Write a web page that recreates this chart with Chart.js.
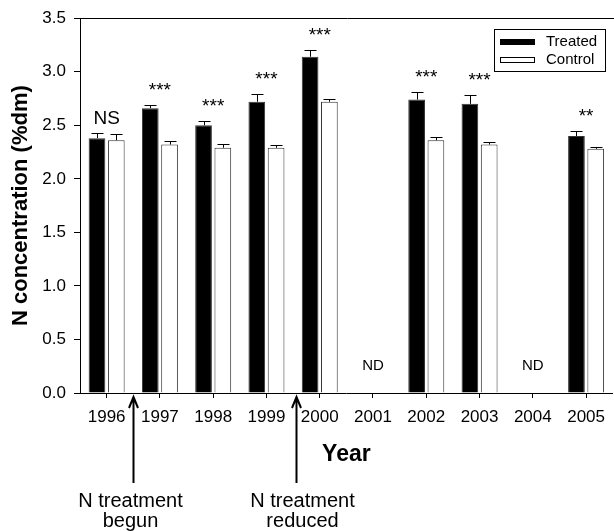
<!DOCTYPE html>
<html>
<head>
<meta charset="utf-8">
<script src="https://cdn.jsdelivr.net/npm/chart.js@4/dist/chart.umd.min.js"></script>
<style>
  html, body { margin: 0; padding: 0; background: #fff; }
  #wrap { width: 614px; height: 531px; position: relative; }
</style>
</head>
<body>
<div id="wrap"><canvas id="c" width="614" height="531"></canvas></div>
<script>
const years = ['1996', '1997', '1998', '1999', '2000', '2001', '2002', '2003', '2004', '2005'];
const treated = [2.38, 2.66, 2.50, 2.72, 3.14, null, 2.74, 2.70, null, 2.40];
const treatedErr = [0.05, 0.03, 0.04, 0.07, 0.06, null, 0.07, 0.08, null, 0.045];
const control = [2.36, 2.32, 2.29, 2.29, 2.72, null, 2.36, 2.32, null, 2.28];
const controlErr = [0.06, 0.035, 0.035, 0.025, 0.03, null, 0.035, 0.025, null, 0.02];
const sigLabels = ['NS', '***', '***', '***', '***', 'ND', '***', '***', 'ND', '**'];
const yTicks = [0, 0.5, 1.0, 1.5, 2.0, 2.5, 3.0, 3.5];
const events = [
  { at: 0.5, lines: ['N treatment', 'begun'], dx: -3 },
  { at: 3.55, lines: ['N treatment', 'reduced'], dx: 6 }
];
const seriesNames = ['Treated', 'Control'];

const FONT = "'Liberation Sans', Arial, Helvetica, sans-serif";

const errorBars = {
  id: 'errorBars',
  afterDatasetsDraw(chart) {
    const ctx = chart.ctx;
    const y = chart.scales.y;
    const errs = [treatedErr, controlErr];
    chart.data.datasets.forEach((ds, di) => {
      const meta = chart.getDatasetMeta(di);
      meta.data.forEach((bar, i) => {
        const v = ds.data[i];
        const e = errs[di][i];
        if (v == null || e == null) return;
        const x = Math.round(bar.x) + 0.5;
        const top = Math.round(y.getPixelForValue(v + e)) + 0.5;
        const base = y.getPixelForValue(v);
        ctx.save();
        ctx.strokeStyle = '#000';
        ctx.lineWidth = 1;
        ctx.beginPath();
        ctx.moveTo(x, base);
        ctx.lineTo(x, top);
        ctx.moveTo(x - 6, top);
        ctx.lineTo(x + 6, top);
        ctx.stroke();
        ctx.restore();
      });
    });
  }
};

const extras = {
  id: 'extras',
  afterDraw(chart) {
    const ctx = chart.ctx;
    const xs = chart.scales.x;
    const ys = chart.scales.y;
    const area = chart.chartArea;
    ctx.save();
    // top frame line
    ctx.strokeStyle = '#000';
    ctx.lineWidth = 1;
    ctx.beginPath();
    const ty = Math.round(area.top) + 0.5;
    ctx.moveTo(Math.round(area.left), ty);
    ctx.lineTo(area.right + 2, ty);
    ctx.stroke();

    // significance labels
    ctx.fillStyle = '#000';
    ctx.textAlign = 'center';
    ctx.textBaseline = 'alphabetic';
    sigLabels.forEach((lab, i) => {
      const cx = xs.getPixelForValue(i);
      if (lab === 'ND') {
        ctx.font = '15px ' + FONT;
        ctx.fillText(lab, cx, ys.getPixelForValue(0) - 23);
      } else {
        const tops = [];
        if (treated[i] != null) tops.push(treated[i] + (treatedErr[i] || 0));
        if (control[i] != null) tops.push(control[i] + (controlErr[i] || 0));
        const m = Math.max(...tops);
        ctx.font = '19px ' + FONT;
        ctx.fillText(lab, cx, ys.getPixelForValue(m) - 9);
      }
    });

    // legend
    const lx = area.right - 119, ly = area.top + 11;
    const lw = 111, lh = 42;
    ctx.strokeStyle = '#000';
    ctx.lineWidth = 1;
    ctx.strokeRect(Math.round(lx) + 0.5, Math.round(ly) + 0.5, lw, lh);
    const sx = Math.round(lx) + 6;
    ctx.fillStyle = '#000';
    ctx.fillRect(sx, Math.round(ly) + 10, 35, 6);
    ctx.strokeRect(sx + 0.5, Math.round(ly) + 28.5, 34, 5);
    ctx.font = '15px ' + FONT;
    ctx.textAlign = 'left';
    ctx.textBaseline = 'middle';
    ctx.fillText(seriesNames[0], sx + 46, Math.round(ly) + 13);
    ctx.fillText(seriesNames[1], sx + 46, Math.round(ly) + 31);

    // event arrows
    const catW = (area.right - area.left) / years.length;
    events.forEach(ev => {
      const x = Math.round(xs.getPixelForValue(0) + ev.at * catW) + 0.5;
      const tip = area.bottom + 4;
      ctx.strokeStyle = '#000';
      ctx.lineWidth = 2;
      ctx.beginPath();
      ctx.moveTo(x, tip);
      ctx.lineTo(x, tip + 86);
      ctx.moveTo(x - 4.5, tip + 11);
      ctx.lineTo(x, tip);
      ctx.lineTo(x + 4.5, tip + 11);
      ctx.stroke();
      ctx.fillStyle = '#000';
      ctx.font = '20px ' + FONT;
      ctx.textAlign = 'center';
      ctx.textBaseline = 'alphabetic';
      ev.lines.forEach((t, k) => {
        ctx.fillText(t, x + ev.dx, 507 + k * 20);
      });
    });
    ctx.restore();
  }
};

new Chart(document.getElementById('c'), {
  type: 'bar',
  data: {
    labels: years,
    datasets: [
      {
        label: seriesNames[0],
        data: treated,
        backgroundColor: '#000',
        borderColor: '#333',
        borderWidth: 1,
        categoryPercentage: 0.724,
        barPercentage: 0.866
      },
      {
        label: seriesNames[1],
        data: control,
        backgroundColor: '#fff',
        borderColor: '#333',
        borderWidth: 1,
        categoryPercentage: 0.724,
        barPercentage: 0.866
      }
    ]
  },
  options: {
    responsive: false,
    animation: false,
    devicePixelRatio: 1,
    layout: { padding: { top: 17, right: -2, bottom: 53, left: 0 } },
    plugins: {
      legend: { display: false },
      tooltip: { enabled: false }
    },
    scales: {
      x: {
        offset: true,
        grid: { display: true, drawOnChartArea: false, drawTicks: true, tickLength: 5, offset: false, color: '#000' },
        border: { display: true, color: '#000', width: 1 },
        ticks: { color: '#000', font: { family: FONT, size: 17 }, padding: 9, maxRotation: 0, autoSkip: false },
        title: { display: true, text: 'Year', color: '#000', font: { family: FONT, size: 23, weight: 'bold' }, padding: { top: 0, bottom: 10 } },
        afterFit(s) { s.height = 85; }
      },
      y: {
        min: 0,
        max: 3.5,
        afterBuildTicks(s) { s.ticks = yTicks.map(v => ({ value: v })); },
        grid: { display: true, drawOnChartArea: false, drawTicks: true, tickLength: 6, color: '#000' },
        border: { display: true, color: '#000', width: 1 },
        ticks: { color: '#000', font: { family: FONT, size: 17 }, padding: 8, callback: v => Number(v).toFixed(1) },
        title: { display: true, text: 'N concentration (%dm)', color: '#000', font: { family: FONT, size: 22, weight: 'bold' }, padding: { top: 8, bottom: 0 } },
        afterFit(s) { s.width = 80; }
      }
    }
  },
  plugins: [errorBars, extras]
});
</script>
</body>
</html>
